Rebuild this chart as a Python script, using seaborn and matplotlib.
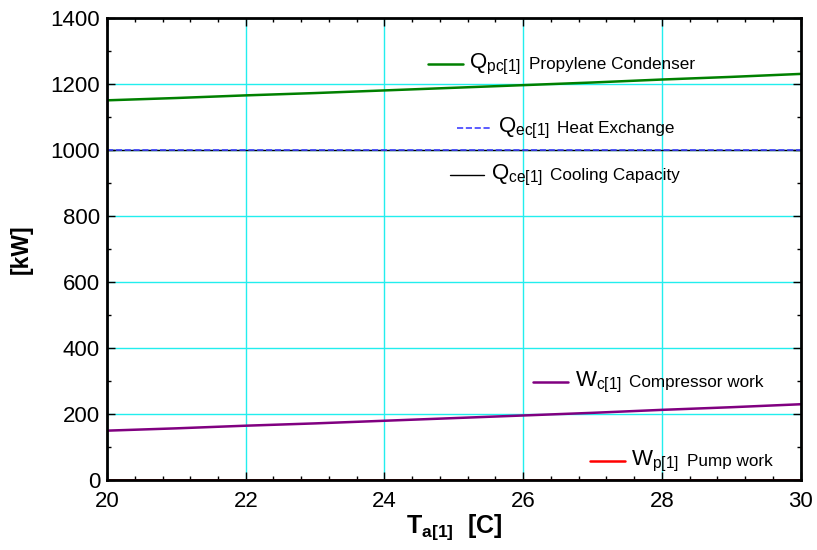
import matplotlib
matplotlib.use("Agg")
import matplotlib.pyplot as plt
import seaborn as sns
import pandas as pd
from matplotlib.lines import Line2D
from matplotlib.offsetbox import (AnchoredOffsetbox, DrawingArea, HPacker,
                                  TextArea)
from matplotlib.ticker import MultipleLocator

# Datos
t_amb = [20, 21, 22, 23, 24, 25, 26, 27, 28, 29, 30]
w_comp = [150, 157, 165, 172, 180, 188, 196, 204, 213, 221, 230]
q_ce = [1000] * 11
q_ec = [1000] * 11
q_pc = [1151, 1158, 1166, 1173, 1181, 1189, 1197, 1205, 1214, 1222, 1231]
w_pump = [1.5] * 11

series_names = ["pc", "ec", "ce", "c", "p"]
series_sym = ["Q", "Q", "Q", "W", "W"]
series_desc = ["Propylene Condenser", "Heat Exchange", "Cooling Capacity",
               "Compressor work", "Pump work"]
series_vals = [q_pc, q_ec, q_ce, w_comp, w_pump]
colors = ["green", "#4040ff", "black", "purple", "red"]
styles = ["-", "--", "-", "-", "-"]
widths = [1.8, 1.2, 1.0, 1.8, 1.8]
label_pos = [(0.4625, 0.900), (0.504, 0.762), (0.494, 0.660),
             (0.614, 0.212), (0.696, 0.041)]

sns.set_style("ticks")
plt.rcParams["font.family"] = ["Liberation Sans", "DejaVu Sans"]
plt.rcParams["mathtext.fontset"] = "custom"
plt.rcParams["mathtext.rm"] = "Liberation Sans"
plt.rcParams["mathtext.it"] = "Liberation Sans"
plt.rcParams["mathtext.bf"] = "Liberation Sans:bold"
plt.rcParams["text.color"] = "black"

fig = plt.figure(figsize=(8.17, 5.5), dpi=100)
ax = fig.add_axes([0.131, 0.127, 0.849, 0.840])

# orden: negro debajo del azul discontinuo
draw_order = [2, 1, 0, 3, 4]
for i in draw_order:
    df = pd.DataFrame({"T": t_amb, "v": series_vals[i]})
    sns.lineplot(data=df, x="T", y="v", ax=ax, color=colors[i],
                 linestyle=styles[i], linewidth=widths[i], zorder=3)

ax.set_xlim(20, 30)
ax.set_ylim(0, 1400)
ax.xaxis.set_major_locator(MultipleLocator(2))
ax.xaxis.set_minor_locator(MultipleLocator(0.4))
ax.yaxis.set_major_locator(MultipleLocator(200))
ax.yaxis.set_minor_locator(MultipleLocator(100))
ax.grid(which="major", color="#22eeee", linewidth=1.0, zorder=0)
ax.tick_params(which="both", direction="in", top=True, right=True,
               labelsize=16, width=1, labelcolor="black", color="black")
ax.tick_params(which="major", length=6)
ax.tick_params(which="minor", length=3)
ax.tick_params(axis="x", pad=8)
ax.tick_params(axis="y", pad=5)
for s in ax.spines.values():
    s.set_linewidth(2)
    s.set_color("black")
    s.set_zorder(5)

ax.set_ylabel("[kW]", fontsize=16.5, fontweight="bold", labelpad=13,
              color="black")
ax.set_xlabel(r"$\mathbf{T_{a[1]}}$  [C]", fontsize=18, fontweight="bold",
              labelpad=0, color="black")

# etiquetas en linea con segmento
for i in range(5):
    da = DrawingArea(25, 10, 0, 0)
    da.add_artist(Line2D([0, 25], [5, 5], color=colors[i],
                         linestyle=styles[i], linewidth=widths[i]))
    sym = TextArea(series_sym[i] + r"$_{\mathregular{" + series_names[i] +
                   "[1]}}$", textprops=dict(fontsize=16, color="black"))
    desc = TextArea(series_desc[i],
                    textprops=dict(fontsize=12.3, color="black"))
    box = HPacker(children=[da, sym, desc], align="center", pad=0, sep=5)
    anch = AnchoredOffsetbox(loc="center left", child=box, pad=0,
                             frameon=False,
                             bbox_to_anchor=label_pos[i],
                             bbox_transform=ax.transAxes, borderpad=0)
    ax.add_artist(anch)

fig.savefig("out.png", dpi=100)
